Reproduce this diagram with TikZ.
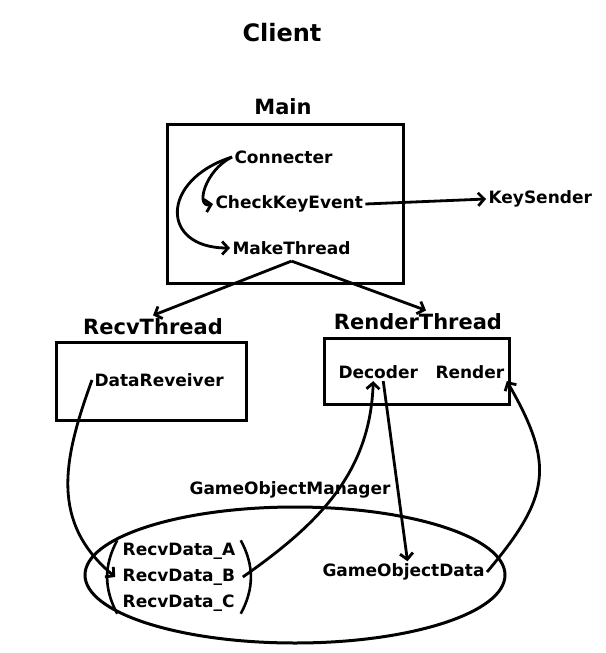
\documentclass[tikz,border=0pt]{standalone}
\usepackage{fontspec}
\setmainfont{DejaVu Sans}
\usetikzlibrary{shapes.geometric,arrows.meta,positioning}
\tikzset
{
    title/.style   = {font=\fontsize{24}{28}\selectfont\bfseries, inner sep=0pt},
    caption/.style = {font=\fontsize{21}{25}\selectfont\bfseries, inner sep=2pt},
    item/.style    = {font=\fontsize{17}{26}\selectfont\bfseries, inner sep=1pt},
    block/.style   = {draw=black, line width=3pt, inner sep=0pt},
    arr/.style     = {-{Straight Barb[length=6pt,width=13pt]}, line width=2.8pt}
}

\begin{document}
\begin{tikzpicture}[x=1pt, y=-1pt, line width=3pt]
\useasboundingbox (0,0) rectangle (605,653);

\node (client)[title] 	at (282,33) 	{Client};

% Main
\node (mainlbl)[caption] 	at (283,107) 	{Main};
\node (mainbox)[block, minimum width=236pt, minimum height=159pt] at (285,203.5) {};
\node (conn)[item, anchor=west] 	at (232,157) 	{Connecter};
\node (check)[item, anchor=west] 	at (213,204) 	{CheckKeyEvent};
\node (make)[item, anchor=west] 	at (230,248) 	{MakeThread};
\node (keys)[item, anchor=west] 	at (486,199) 	{KeySender};
\coordinate (fork) at ([yshift=-4pt]make.south);

% threads
\node (recvlbl)[caption] 	at (153,327) 	{RecvThread};
\node (recvbox)[block, minimum width=190pt, minimum height=78pt] at (151,381) {};
\node (datarecv)[item, anchor=west] 	at (92,380) 	{DataReveiver};

\node (renderlbl)[caption] 	at (418,322) 	{RenderThread};
\node (renderbox)[block, minimum width=185pt, minimum height=66pt] at (416.5,371) {};
\node (decoder)[item, anchor=west] 	at (336,372) 	{Decoder};
\node (render)[item, anchor=west] 	at (433,372) 	{Render};

% manager
\node (gomgr)[item] 	at (290,490) 	{GameObjectManager};
\node (gomgrbox)[block, ellipse, minimum width=420pt, minimum height=136pt] at (295,575) {};
\node (rd)[item, align=left, inner xsep=4pt] 	at (179,577) 	{RecvData\_A\\RecvData\_B\\RecvData\_C};
\node (gobjdata)[item, anchor=west] 	at (320,572) 	{GameObjectData};

\draw[line width=2.6pt] (rd.north west) to[bend right=28] (rd.south west);
\draw[line width=2.6pt] (rd.north east) to[bend left=28] (rd.south east);

\draw[arr] (conn.west) 	.. controls (205,170) and (195,208) .. (check.west);
\draw[arr] (conn.west) 	.. controls (160,180) and (160,248) .. (make.west);
\draw[arr] (check.east) 	-- (keys.west);
\draw[arr] (fork) 		-- (recvlbl.north);
\draw[arr] (fork) 		-- ([xshift=8pt]renderlbl.north);

\draw[arr] (datarecv.west) 	to[out=250, in=140, looseness=1.1] ([xshift=-2pt]rd.west);
\draw[arr] ([xshift=2pt]rd.east) 	to[out=35, in=268] ([xshift=-5pt]decoder.south);
\draw[arr] ([xshift=5pt]decoder.south) 	-- ([xshift=4pt]gobjdata.north);
\draw[arr] (gobjdata.east) 	to[out=50, in=-60, looseness=1.3] (render.south east);

\end{tikzpicture}
\end{document}
